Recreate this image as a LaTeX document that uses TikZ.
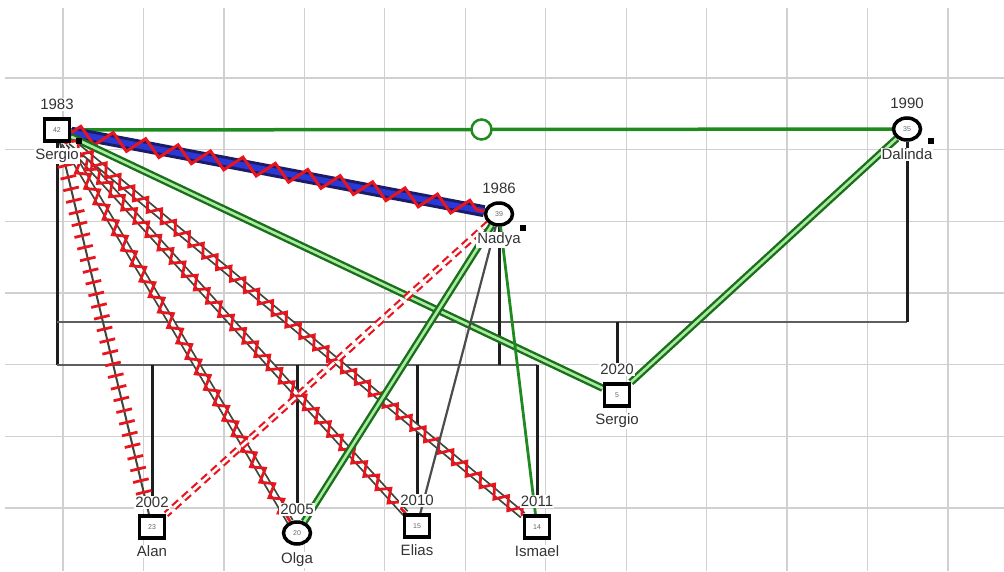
\documentclass[tikz,border=0pt]{standalone}
\usepackage{fontspec}
\setmainfont{Liberation Sans}
\usetikzlibrary{shapes.geometric,decorations.pathmorphing,decorations.markings,positioning}
\pgfdeclarelayer{bg}
\pgfsetlayers{bg,main}
\definecolor{gridc}{HTML}{D0D0D0}
\definecolor{famgray}{HTML}{5E5E5E}
\definecolor{famblk}{HTML}{1E1E1E}
\definecolor{relgrn}{HTML}{1F8A1F}
\definecolor{dgrn}{HTML}{1B6E1B}
\definecolor{lgrn}{HTML}{A8ECA0}
\definecolor{navyc}{HTML}{1C1C66}
\definecolor{bluec}{HTML}{2A38D6}
\definecolor{hred}{HTML}{E8141E}
\definecolor{dkline}{HTML}{3A473A}
\definecolor{txt}{HTML}{333333}

\begin{document}
\begin{tikzpicture}[x=1pt,y=-1pt]

      \tikzset{male/.style={draw=black, line width=3.5pt, fill=white, rectangle, minimum width=25pt, minimum height=22pt, inner sep=0pt, font=\fontsize{7}{7}\selectfont, text=black!60},
               female/.style={draw=black, line width=3.5pt, fill=white, ellipse, minimum width=27pt, minimum height=22pt, inner sep=0pt, font=\fontsize{7}{7}\selectfont, text=black!60},
               yr/.style={fill=white, inner sep=1pt, text=txt, font=\fontsize{15}{15}\selectfont},
               nm/.style={fill=white, inner sep=1pt, text=txt, font=\fontsize{15}{15}\selectfont},
               flagsq/.style={fill=black, rectangle, minimum size=6pt, inner sep=0pt},
               ring/.style={draw=relgrn, line width=2.5pt, fill=white, circle, minimum size=20pt, inner sep=0pt},
               fambar/.style={draw=famgray, line width=2.5pt},
               famdrop/.style={draw=famblk, line width=3pt},
               gdouble/.style={draw=dgrn, line width=2.4pt, double=lgrn, double distance=2.6pt},
               rdash/.style={draw=hred, line width=2.2pt, double=white, double distance=2.6pt, dash pattern=on 8pt off 5pt},
               twoline/.style={draw=dkline, line width=1.8pt, double=white, double distance=4pt},
               zig/.style={draw=hred, line width=2.8pt, decorate, decoration={zigzag, segment length=18pt, amplitude=6pt}},
               ladder/.style={decorate, decoration={markings, mark=between positions 0.03 and 0.98 step 12pt with {\draw[hred, line width=2.8pt] (0,-8) -- (0,8);}}}}
      \useasboundingbox (0,0) rectangle (1004,571);
%% Persons
      	\node[male] (sergio) at (57,130) {42};
      	\node[female] (nadya) at (499,214) {39};
      	\node[female] (dalinda) at (907,129) {35};
      	\node[male] (sergio2) at (617,395) {5};
      	\node[male] (alan) at (152,527) {23};
      	\node[female] (olga) at (297,533) {20};
      	\node[male] (elias) at (417,526) {15};
      	\node[male] (ismael) at (537,527) {14};
%% Markers
      	\node[flagsq] (mk-sergio) at (79,141) {};
      	\node[flagsq] (mk-nadya) at (523,228) {};
      	\node[flagsq] (mk-dalinda) at (931,141) {};
%% Years and names
      	\node[yr, above=6pt of sergio] (yr-sergio) {1983};
      	\node[nm, below=5pt of sergio] (nm-sergio) {Sergio};
      	\node[yr, above=6pt of nadya] (yr-nadya) {1986};
      	\node[nm, below=5pt of nadya] (nm-nadya) {Nadya};
      	\node[yr, above=6pt of dalinda] (yr-dalinda) {1990};
      	\node[nm, below=6pt of dalinda] (nm-dalinda) {Dalinda};
      	\node[yr, above=6pt of sergio2] (yr-sergio2) {2020};
      	\node[nm, below=5pt of sergio2] (nm-sergio2) {Sergio};
      	\node[yr, above=5pt of alan] (yr-alan) {2002};
      	\node[nm, below=5pt of alan] (nm-alan) {Alan};
      	\node[yr, above=4pt of olga] (yr-olga) {2005};
      	\node[nm, below=6pt of olga] (nm-olga) {Olga};
      	\node[yr, above=6pt of elias] (yr-elias) {2010};
      	\node[nm, below=5pt of elias] (nm-elias) {Elias};
      	\node[yr, above=6pt of ismael] (yr-ismael) {2011};
      	\node[nm, below=5pt of ismael] (nm-ismael) {Ismael};

      \begin{pgfonlayer}{bg}
%Grid
      	\foreach \k in {0,...,11}
      	  \draw[gridc, line width=1.2pt] ({63+80.45*\k},8) -- ({63+80.45*\k},571);
      	\foreach \k in {0,...,6}
      	  \draw[gridc, line width=1.2pt] (5,{78+71.67*\k}) -- (1004,{78+71.67*\k});
%Family lines
      	\coordinate (bar1) at (0,322);
      	\coordinate (bar2) at (0,365);
      	\draw[famdrop] (sergio.south) -- (sergio.south |- bar2);
      	\draw[fambar] (sergio.south |- bar1) -- (dalinda.south |- bar1);
      	\draw[famdrop] (dalinda.south) -- (dalinda.south |- bar1);
      	\draw[famdrop] (yr-sergio2.north) -- (yr-sergio2.north |- bar1);
      	\draw[fambar] (sergio.south |- bar2) -- (ismael.north |- bar2);
      	\draw[famdrop] (nadya.south) -- (nadya.south |- bar2);
      	\foreach \c in {alan,olga,elias,ismael}
      	  \draw[famdrop] (yr-\c.north) -- (yr-\c.north |- bar2);
%Relations
      	\draw[relgrn, line width=3.5pt] (sergio) -- node[ring] (mid) {} (dalinda);
      	\draw[navyc, line width=3pt, double=bluec, double distance=6pt] (sergio) -- (nadya);
      	\draw[hred, line width=3pt, decorate, decoration={zigzag, segment length=33pt, amplitude=8pt}] (sergio) -- (nadya);
      	\draw[gdouble] (sergio) -- (sergio2);
      	\draw[gdouble] (dalinda) -- (sergio2);
      	\draw[dkline, line width=2pt] (sergio) -- (alan);
      	\path[ladder] (sergio) -- (alan);
      	\draw[twoline] (sergio) -- (olga);
      	\draw[zig] (sergio) -- (olga);
      	\draw[twoline] (sergio) -- (elias);
      	\draw[zig] (sergio) -- (elias);
      	\draw[twoline] (sergio) -- (ismael);
      	\draw[zig] (sergio) -- (ismael);
      	\draw[rdash] (nadya) -- (alan);
      	\draw[gdouble] (nadya) -- (olga);
      	\draw[black!70, line width=2.2pt] (nadya) -- (elias);
      	\draw[relgrn, line width=2.8pt] (nadya) -- (ismael);
      \end{pgfonlayer}

	\end{tikzpicture}
\end{document}
